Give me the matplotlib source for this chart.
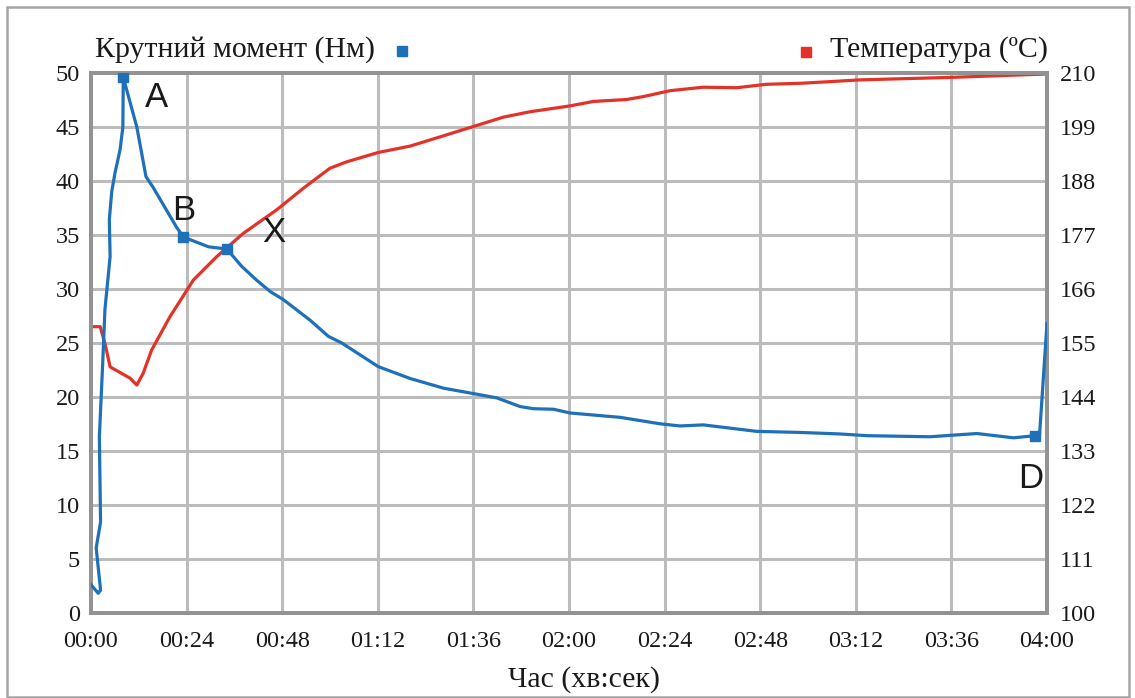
import matplotlib
matplotlib.use('Agg')
import matplotlib.pyplot as plt
from matplotlib.patches import Rectangle
from matplotlib.lines import Line2D

# Torque, N*m (left axis) vs time in seconds
torque_t = [0, 1.8, 2.4, 1.3, 2.4, 2.1, 2.9, 3.5, 4.8, 4.6, 5.2, 6.0, 7.3, 8.0, 8.1,
            11.5, 13.8, 15.6, 21.5, 23.2, 29.5, 31.6, 34.1, 37.8, 41.6, 45.0, 48.3,
            55.0, 59.6, 62.9, 72.1, 80.1, 88.5, 96.0, 101.9, 107.7, 111.0, 116.1,
            120.3, 132.8, 142.9, 147.9, 153.7, 167.1, 178.0, 188.0, 194.8, 210.6,
            222.4, 231.6, 237.0, 238.1, 240.0]
torque_v = [2.6, 1.8, 2.1, 6.0, 8.4, 16.3, 22.8, 28.1, 33.0, 36.4, 39.0, 40.7, 42.9, 45.0, 49.6,
            45.0, 40.4, 39.4, 35.7, 34.8, 33.9, 33.8, 33.7, 32.1, 30.8, 29.75, 29.0,
            27.1, 25.6, 25.0, 22.8, 21.7, 20.8, 20.3, 19.9, 19.1, 18.9, 18.85,
            18.5, 18.1, 17.5, 17.3, 17.4, 16.8, 16.7, 16.56, 16.4, 16.3,
            16.6, 16.2, 16.4, 16.3, 26.8]

# Temperature, deg C (right axis)
temp_t = [0, 2.3, 3.5, 4.8, 9.8, 11.5, 13.1, 15.2, 19.8, 25.7, 31.6, 38.2, 46.6, 53.3,
          60.0, 64.2, 72.1, 80.1, 88.5, 96.4, 103.5, 110.2, 120.3, 126.1, 134.5, 138.7,
          145.4, 153.7, 162.1, 169.6, 178.0, 184.7, 193.1, 215.7, 240.0]
temp_v = [158.3, 158.3, 154.9, 150.1, 147.8, 146.4, 148.8, 153.5, 160.3, 167.8, 172.6, 177.3, 182.1, 186.5,
          190.6, 191.9, 193.8, 195.1, 197.2, 199.2, 201.0, 202.1, 203.3, 204.2, 204.6, 205.2,
          206.4, 207.1, 207.0, 207.7, 207.9, 208.2, 208.6, 209.1, 209.8]

# Marked points on the torque curve
point_names = ['A', 'B', 'X', 'D']
point_t = [8.1, 23.2, 34.1, 237.0]
point_v = [49.6, 34.8, 33.7, 16.4]

x_ticks = [0, 24, 48, 72, 96, 120, 144, 168, 192, 216, 240]
x_labels = ['00:00', '00:24', '00:48', '01:12', '01:36', '02:00',
            '02:24', '02:48', '03:12', '03:36', '04:00']
torque_ticks = [0, 5, 10, 15, 20, 25, 30, 35, 40, 45, 50]
temp_ticks = [100, 111, 122, 133, 144, 155, 166, 177, 188, 199, 210]

BLUE = '#1e70b9'
RED = '#e43228'
GRID = '#bcbcbc'
SPINE = '#939393'
TXT = '#1a1a1a'

plt.rcParams['font.family'] = ['Liberation Serif', 'DejaVu Serif']

W, H = 1135, 698
fig = plt.figure(figsize=(W / 100, H / 100), dpi=100)
ax = fig.add_axes([91 / W, 1 - 612.7 / H, (1047 - 91) / W, (612.7 - 73) / H])
ax2 = ax.twinx()

# torque axis on top so the blue curve covers the red one
ax.set_zorder(ax2.get_zorder() + 1)
ax.patch.set_visible(False)

ax2.plot(temp_t, temp_v, color=RED, lw=2.3, solid_joinstyle='round', zorder=3)
ax.plot(torque_t, torque_v, color=BLUE, lw=2.3, solid_joinstyle='round', zorder=3)
ax.plot(point_t, point_v, 's', color=BLUE, ms=7.5, zorder=4)

offsets = [(24, -12), (0.5, 22), (34, 14.5), (-3, -28.5)]
for name, t, v, off in zip(point_names, point_t, point_v, offsets):
    ax.annotate(name, (t, v), xytext=off, textcoords='offset points',
                ha='center', va='center_baseline', fontsize=25,
                family='Liberation Sans', color=TXT)

ax.set_xlim(0, 240)
ax.set_ylim(0, 50)
ax2.set_ylim(100, 210)
ax.set_xticks(x_ticks)
ax.set_xticklabels(x_labels)
ax.set_yticks(torque_ticks)
ax2.set_yticks(temp_ticks)

# grid lives on the lower axes so it stays under both curves
ax2.xaxis.set_visible(True)
ax2.tick_params(axis='x', labelbottom=False, labeltop=False, length=0)
ax2.grid(True, color=GRID, lw=2.2)
ax2.set_axisbelow(True)

ax.tick_params(axis='x', length=0, pad=13, labelsize=17.5, labelcolor=TXT)
ax.tick_params(axis='y', length=0, pad=8, labelsize=17.5, labelcolor=TXT)
ax2.tick_params(axis='y', length=0, pad=9, labelsize=17.5, labelcolor=TXT)

for a in (ax, ax2):
    for s in a.spines.values():
        s.set_color(SPINE)
        s.set_linewidth(2.8)

# legend-like header
fig.text(95 / W, 1 - 57 / H, 'Крутний момент (Нм)', ha='left', va='baseline',
         fontsize=21.5, color=TXT)
fig.add_artist(Line2D([402 / W], [1 - 51 / H], marker='s', color=BLUE, ms=7.5,
                      transform=fig.transFigure))
fig.add_artist(Line2D([805.5 / W], [1 - 52 / H], marker='s', color=RED, ms=7.5,
                      transform=fig.transFigure))
fig.text(830 / W, 1 - 57 / H, 'Температура (ºC)', ha='left', va='baseline',
         fontsize=21.5, color=TXT)

fig.text(583.5 / W, 1 - 687 / H, 'Час (хв:сек)', ha='center', va='baseline',
         fontsize=21.5, color=TXT)

# outer frame
fig.add_artist(Rectangle((7 / W, 1 - 697 / H), (1129 - 7) / W, (697 - 7) / H,
                         transform=fig.transFigure, fill=False,
                         edgecolor='#a5a5a5', lw=1.8))

fig.savefig('out.png', dpi=100)
